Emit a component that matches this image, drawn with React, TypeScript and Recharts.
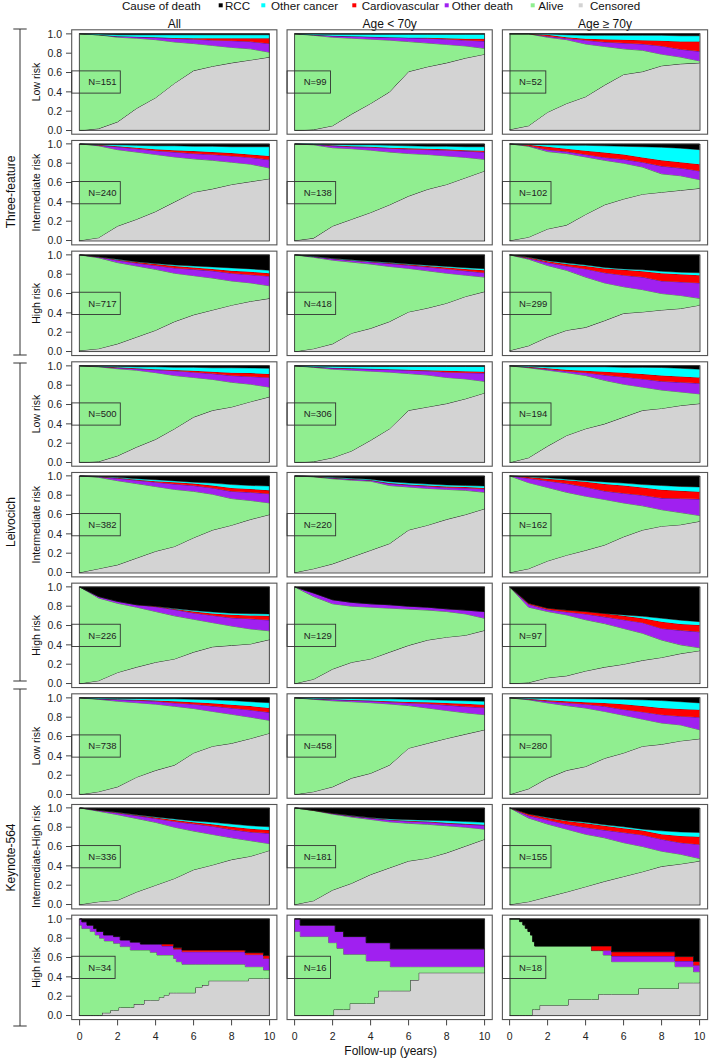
import React from "react";
import { AreaChart, Area, XAxis, YAxis } from "recharts";

// ---- data ----
const YEARS = [0, 1, 2, 3, 4, 5, 6, 7, 8, 9, 10];
const COLUMN_TITLES = ["All", "Age < 70y", "Age \u2265 70y"];
const GROUP_LABELS = ["Three-feature", "Leivocich", "Keynote-564"];
const ROW_LABELS = ["Low risk", "Intermediate risk", "High risk", "Low risk", "Intermediate risk", "High risk", "Low risk", "Intermediate-High risk", "High risk"];
const N_AT_RISK = [151, 99, 52, 240, 138, 102, 717, 418, 299, 500, 306, 194, 382, 220, 162, 226, 129, 97, 738, 458, 280, 336, 181, 155, 34, 16, 18];
const LEGEND_LABELS = ["RCC", "Other cancer", "Cardiovascular", "Other death", "Alive", "Censored"];
const X_TICKS = [0, 2, 4, 6, 8, 10];
const Y_TICKS = [0, 0.2, 0.4, 0.6, 0.8, 1];

// upper edge of each band at YEARS, one row per panel (rows 1-8, 3 columns)
const CENSORED = [
  [0, 0.02, 0.09, 0.23, 0.34, 0.49, 0.62, 0.665, 0.7, 0.73, 0.76],
  [0, 0.01, 0.05, 0.17, 0.28, 0.4, 0.61, 0.66, 0.7, 0.75, 0.79],
  [0.01, 0.05, 0.19, 0.28, 0.35, 0.47, 0.58, 0.61, 0.67, 0.69, 0.7],
  [0, 0.03, 0.15, 0.22, 0.3, 0.4, 0.5, 0.535, 0.58, 0.61, 0.64],
  [0, 0.025, 0.15, 0.22, 0.29, 0.37, 0.46, 0.53, 0.58, 0.65, 0.72],
  [0, 0.035, 0.12, 0.16, 0.27, 0.37, 0.43, 0.48, 0.5, 0.52, 0.54],
  [0.01, 0.03, 0.08, 0.15, 0.22, 0.31, 0.38, 0.43, 0.48, 0.52, 0.55],
  [0, 0.03, 0.08, 0.19, 0.24, 0.31, 0.41, 0.45, 0.5, 0.57, 0.62],
  [0.01, 0.06, 0.15, 0.22, 0.25, 0.32, 0.395, 0.41, 0.43, 0.445, 0.48],
  [0, 0.01, 0.07, 0.16, 0.24, 0.35, 0.47, 0.54, 0.575, 0.63, 0.68],
  [0, 0.01, 0.05, 0.12, 0.23, 0.35, 0.54, 0.575, 0.61, 0.66, 0.72],
  [0, 0.05, 0.17, 0.28, 0.35, 0.4, 0.47, 0.54, 0.56, 0.59, 0.61],
  [0, 0.04, 0.08, 0.15, 0.22, 0.27, 0.36, 0.44, 0.49, 0.55, 0.6],
  [0, 0.04, 0.09, 0.16, 0.23, 0.3, 0.44, 0.49, 0.55, 0.6, 0.66],
  [0, 0.04, 0.12, 0.18, 0.23, 0.285, 0.37, 0.44, 0.48, 0.495, 0.53],
  [0, 0.03, 0.115, 0.17, 0.22, 0.255, 0.325, 0.38, 0.395, 0.41, 0.455],
  [0, 0.045, 0.15, 0.22, 0.255, 0.325, 0.395, 0.45, 0.48, 0.5, 0.55],
  [0, 0.01, 0.06, 0.08, 0.13, 0.17, 0.2, 0.24, 0.27, 0.31, 0.34],
  [0, 0.03, 0.08, 0.18, 0.25, 0.305, 0.43, 0.5, 0.53, 0.58, 0.635],
  [0, 0.03, 0.08, 0.17, 0.22, 0.305, 0.48, 0.53, 0.58, 0.625, 0.67],
  [0, 0.06, 0.17, 0.25, 0.29, 0.375, 0.43, 0.5, 0.52, 0.555, 0.577],
  [0, 0.03, 0.045, 0.13, 0.2, 0.27, 0.36, 0.41, 0.465, 0.5, 0.56],
  [0, 0.04, 0.15, 0.22, 0.31, 0.38, 0.45, 0.48, 0.535, 0.605, 0.675],
  [0, 0.03, 0.08, 0.13, 0.185, 0.24, 0.29, 0.34, 0.395, 0.42, 0.45],
];
const ALIVE_TOP = [
  [1, 0.99, 0.965, 0.955, 0.94, 0.916, 0.9, 0.88, 0.86, 0.845, 0.81],
  [1, 0.985, 0.965, 0.955, 0.945, 0.935, 0.92, 0.905, 0.89, 0.875, 0.85],
  [1, 1, 0.965, 0.94, 0.895, 0.87, 0.845, 0.83, 0.79, 0.76, 0.72],
  [1, 0.98, 0.94, 0.915, 0.89, 0.865, 0.845, 0.83, 0.81, 0.79, 0.75],
  [1, 0.99, 0.96, 0.95, 0.935, 0.915, 0.9, 0.89, 0.875, 0.86, 0.84],
  [1, 0.975, 0.92, 0.9, 0.865, 0.83, 0.8, 0.76, 0.69, 0.67, 0.63],
  [1, 0.97, 0.92, 0.885, 0.85, 0.81, 0.785, 0.76, 0.73, 0.71, 0.68],
  [1, 0.975, 0.945, 0.925, 0.905, 0.88, 0.86, 0.835, 0.81, 0.79, 0.77],
  [1, 0.955, 0.89, 0.84, 0.77, 0.71, 0.67, 0.64, 0.6, 0.58, 0.55],
  [1, 0.99, 0.97, 0.955, 0.93, 0.9, 0.88, 0.86, 0.83, 0.81, 0.78],
  [1, 0.985, 0.965, 0.955, 0.945, 0.935, 0.92, 0.905, 0.88, 0.865, 0.84],
  [1, 0.98, 0.955, 0.93, 0.9, 0.85, 0.81, 0.78, 0.75, 0.73, 0.71],
  [1, 0.985, 0.95, 0.92, 0.89, 0.86, 0.84, 0.81, 0.765, 0.745, 0.72],
  [1, 0.99, 0.97, 0.955, 0.945, 0.9, 0.885, 0.87, 0.86, 0.85, 0.83],
  [1, 0.93, 0.88, 0.83, 0.79, 0.756, 0.72, 0.69, 0.65, 0.62, 0.59],
  [1, 0.885, 0.83, 0.79, 0.745, 0.7, 0.665, 0.63, 0.595, 0.565, 0.545],
  [1, 0.9, 0.825, 0.8, 0.79, 0.78, 0.77, 0.76, 0.745, 0.72, 0.675],
  [1, 0.79, 0.745, 0.71, 0.66, 0.62, 0.57, 0.52, 0.45, 0.4, 0.37],
  [1, 0.985, 0.965, 0.95, 0.935, 0.913, 0.89, 0.86, 0.83, 0.8, 0.767],
  [1, 0.985, 0.97, 0.96, 0.95, 0.937, 0.92, 0.895, 0.87, 0.845, 0.826],
  [1, 0.98, 0.948, 0.92, 0.895, 0.86, 0.82, 0.78, 0.74, 0.72, 0.67],
  [1, 0.965, 0.93, 0.89, 0.85, 0.8, 0.76, 0.725, 0.69, 0.66, 0.63],
  [1, 0.972, 0.935, 0.905, 0.88, 0.855, 0.84, 0.83, 0.815, 0.8, 0.78],
  [1, 0.895, 0.832, 0.78, 0.727, 0.69, 0.64, 0.6, 0.552, 0.52, 0.476],
];
const OTHER_TOP = [
  [1, 0.99, 0.975, 0.97, 0.962, 0.952, 0.945, 0.935, 0.93, 0.92, 0.9],
  [1, 0.99, 0.98, 0.975, 0.97, 0.965, 0.96, 0.955, 0.945, 0.935, 0.925],
  [1, 1, 0.975, 0.955, 0.935, 0.915, 0.905, 0.895, 0.875, 0.84, 0.82],
  [1, 0.985, 0.97, 0.95, 0.93, 0.915, 0.9, 0.89, 0.875, 0.86, 0.835],
  [1, 0.995, 0.98, 0.97, 0.965, 0.955, 0.945, 0.94, 0.935, 0.925, 0.915],
  [1, 0.98, 0.94, 0.92, 0.89, 0.86, 0.84, 0.81, 0.77, 0.75, 0.72],
  [1, 0.978, 0.945, 0.915, 0.89, 0.865, 0.85, 0.835, 0.81, 0.795, 0.78],
  [1, 0.982, 0.96, 0.943, 0.927, 0.91, 0.893, 0.875, 0.855, 0.835, 0.815],
  [1, 0.965, 0.92, 0.885, 0.855, 0.815, 0.79, 0.77, 0.73, 0.72, 0.71],
  [1, 0.993, 0.98, 0.97, 0.96, 0.95, 0.935, 0.92, 0.9, 0.89, 0.88],
  [1, 0.99, 0.978, 0.972, 0.967, 0.962, 0.955, 0.948, 0.935, 0.93, 0.925],
  [1, 0.985, 0.965, 0.945, 0.93, 0.905, 0.885, 0.865, 0.84, 0.83, 0.82],
  [1, 0.99, 0.975, 0.955, 0.935, 0.915, 0.9, 0.875, 0.84, 0.83, 0.815],
  [1, 0.992, 0.978, 0.965, 0.955, 0.92, 0.905, 0.893, 0.88, 0.875, 0.865],
  [1, 0.975, 0.948, 0.92, 0.885, 0.843, 0.82, 0.8, 0.77, 0.765, 0.76],
  [1, 0.9, 0.85, 0.815, 0.795, 0.765, 0.73, 0.705, 0.68, 0.67, 0.657],
  [1, 0.937, 0.867, 0.84, 0.825, 0.815, 0.8, 0.79, 0.773, 0.76, 0.745],
  [1, 0.82, 0.765, 0.74, 0.72, 0.69, 0.66, 0.63, 0.57, 0.55, 0.535],
  [1, 0.99, 0.982, 0.975, 0.965, 0.948, 0.935, 0.915, 0.895, 0.875, 0.85],
  [1, 0.99, 0.982, 0.975, 0.968, 0.958, 0.948, 0.94, 0.925, 0.91, 0.9],
  [1, 0.985, 0.965, 0.95, 0.935, 0.913, 0.88, 0.855, 0.826, 0.81, 0.8],
  [1, 0.973, 0.948, 0.92, 0.89, 0.86, 0.835, 0.81, 0.775, 0.75, 0.737],
  [1, 0.974, 0.942, 0.915, 0.894, 0.875, 0.862, 0.855, 0.84, 0.83, 0.82],
  [1, 0.92, 0.875, 0.83, 0.797, 0.77, 0.745, 0.72, 0.675, 0.64, 0.622],
];
const CARDIO_TOP = [
  [1, 0.99, 0.975, 0.97, 0.965, 0.958, 0.955, 0.955, 0.955, 0.955, 0.955],
  [1, 0.99, 0.98, 0.975, 0.97, 0.965, 0.96, 0.96, 0.955, 0.95, 0.95],
  [1, 1, 0.99, 0.965, 0.95, 0.945, 0.94, 0.935, 0.93, 0.92, 0.92],
  [1, 0.99, 0.975, 0.96, 0.945, 0.935, 0.925, 0.915, 0.905, 0.89, 0.875],
  [1, 0.995, 0.985, 0.975, 0.97, 0.96, 0.955, 0.95, 0.945, 0.935, 0.93],
  [1, 0.99, 0.97, 0.95, 0.93, 0.91, 0.89, 0.86, 0.83, 0.81, 0.79],
  [1, 0.98, 0.95, 0.925, 0.905, 0.885, 0.87, 0.855, 0.835, 0.825, 0.81],
  [1, 0.983, 0.962, 0.945, 0.93, 0.915, 0.9, 0.885, 0.87, 0.855, 0.84],
  [1, 0.973, 0.935, 0.905, 0.885, 0.86, 0.845, 0.83, 0.81, 0.8, 0.79],
  [1, 0.995, 0.985, 0.975, 0.965, 0.958, 0.95, 0.94, 0.93, 0.925, 0.916],
  [1, 0.99, 0.98, 0.975, 0.97, 0.965, 0.96, 0.955, 0.95, 0.945, 0.94],
  [1, 0.99, 0.975, 0.96, 0.95, 0.94, 0.93, 0.915, 0.9, 0.89, 0.88],
  [1, 0.993, 0.98, 0.96, 0.945, 0.935, 0.92, 0.9, 0.875, 0.865, 0.85],
  [1, 0.993, 0.98, 0.968, 0.958, 0.925, 0.91, 0.9, 0.89, 0.885, 0.875],
  [1, 0.988, 0.97, 0.955, 0.94, 0.915, 0.9, 0.88, 0.857, 0.845, 0.835],
  [1, 0.9, 0.85, 0.815, 0.8, 0.772, 0.745, 0.725, 0.712, 0.705, 0.7],
  [1, 0.937, 0.867, 0.84, 0.825, 0.815, 0.8, 0.79, 0.773, 0.76, 0.745],
  [1, 0.83, 0.78, 0.76, 0.745, 0.725, 0.7, 0.675, 0.64, 0.615, 0.605],
  [1, 0.99, 0.985, 0.98, 0.972, 0.965, 0.955, 0.945, 0.93, 0.915, 0.895],
  [1, 0.99, 0.985, 0.978, 0.972, 0.965, 0.958, 0.955, 0.948, 0.94, 0.93],
  [1, 0.99, 0.975, 0.965, 0.955, 0.948, 0.935, 0.915, 0.895, 0.885, 0.878],
  [1, 0.975, 0.952, 0.925, 0.9, 0.875, 0.85, 0.83, 0.805, 0.785, 0.77],
  [1, 0.975, 0.944, 0.918, 0.897, 0.878, 0.866, 0.86, 0.845, 0.835, 0.825],
  [1, 0.937, 0.895, 0.865, 0.84, 0.815, 0.79, 0.765, 0.727, 0.71, 0.7],
];
const CANCER_TOP = [
  [1, 0.998, 0.99, 0.99, 0.99, 0.99, 0.99, 0.99, 0.99, 0.99, 0.99],
  [1, 0.998, 0.995, 0.995, 0.995, 0.995, 0.995, 0.995, 0.995, 0.995, 0.995],
  [1, 1, 1, 0.99, 0.985, 0.985, 0.985, 0.985, 0.985, 0.98, 0.98],
  [1, 0.995, 0.99, 0.985, 0.98, 0.98, 0.975, 0.975, 0.97, 0.97, 0.97],
  [1, 1, 0.995, 0.99, 0.99, 0.985, 0.98, 0.975, 0.975, 0.97, 0.97],
  [1, 0.995, 0.99, 0.985, 0.985, 0.98, 0.975, 0.97, 0.965, 0.955, 0.94],
  [1, 0.98, 0.955, 0.93, 0.91, 0.895, 0.885, 0.875, 0.865, 0.855, 0.84],
  [1, 0.985, 0.965, 0.95, 0.935, 0.92, 0.905, 0.893, 0.88, 0.867, 0.857],
  [1, 0.975, 0.94, 0.915, 0.895, 0.87, 0.855, 0.845, 0.83, 0.82, 0.815],
  [1, 0.998, 0.995, 0.99, 0.99, 0.985, 0.985, 0.98, 0.98, 0.978, 0.975],
  [1, 0.998, 0.995, 0.993, 0.993, 0.993, 0.993, 0.993, 0.993, 0.993, 0.993],
  [1, 0.998, 0.99, 0.99, 0.99, 0.99, 0.985, 0.985, 0.983, 0.975, 0.965],
  [1, 0.995, 0.985, 0.97, 0.96, 0.948, 0.935, 0.925, 0.91, 0.9, 0.895],
  [1, 0.995, 0.985, 0.975, 0.965, 0.94, 0.925, 0.915, 0.905, 0.9, 0.895],
  [1, 0.99, 0.98, 0.965, 0.95, 0.937, 0.925, 0.91, 0.9, 0.89, 0.885],
  [1, 0.9, 0.85, 0.815, 0.8, 0.775, 0.755, 0.74, 0.727, 0.722, 0.72],
  [1, 0.937, 0.867, 0.84, 0.825, 0.815, 0.8, 0.79, 0.773, 0.76, 0.745],
  [1, 0.83, 0.78, 0.76, 0.745, 0.725, 0.71, 0.695, 0.675, 0.655, 0.64],
  [1, 0.998, 0.995, 0.993, 0.99, 0.99, 0.985, 0.98, 0.972, 0.96, 0.95],
  [1, 0.998, 0.995, 0.993, 0.99, 0.99, 0.985, 0.98, 0.975, 0.97, 0.965],
  [1, 0.998, 0.995, 0.993, 0.99, 0.988, 0.985, 0.98, 0.972, 0.96, 0.948],
  [1, 0.975, 0.955, 0.93, 0.905, 0.885, 0.865, 0.85, 0.832, 0.815, 0.804],
  [1, 0.975, 0.944, 0.92, 0.9, 0.885, 0.877, 0.872, 0.867, 0.858, 0.85],
  [1, 0.937, 0.9, 0.87, 0.85, 0.825, 0.804, 0.78, 0.762, 0.75, 0.745],
];

// Keynote-564 high risk (small groups): step functions as [year, value]
const STEP_CENSORED = [
  [[0, 0], [1.18, 0.028], [1.62, 0.055], [2.05, 0.083], [2.85, 0.118], [3.39, 0.159], [4.17, 0.187], [4.43, 0.211], [4.7, 0.235], [6.09, 0.291], [6.44, 0.315], [6.79, 0.36], [8.89, 0.384]],
  [[0, 0], [2.05, 0.062], [2.9, 0.125], [4.2, 0.19], [4.4, 0.256], [6.09, 0.367], [6.53, 0.443]],
  [[0, 0], [1.18, 0.062], [1.58, 0.107], [3.08, 0.166], [4.67, 0.221], [6.78, 0.28], [8.89, 0.339]],
];
const STEP_ALIVE_TOP = [
  [[0, 0.935], [0.12, 0.9], [0.56, 0.87], [0.82, 0.834], [1.05, 0.8], [1.3, 0.772], [1.79, 0.747], [2.14, 0.713], [2.67, 0.678], [3.72, 0.654], [4.07, 0.626], [4.95, 0.59], [5.09, 0.557], [5.39, 0.53], [8.72, 0.505], [9.68, 0.47]],
  [[0, 0.87], [0.3, 0.817], [1.79, 0.754], [2.23, 0.695], [2.58, 0.633], [3.77, 0.564], [5.04, 0.505]],
  [[0, 1], [0.53, 0.972], [0.7, 0.938], [0.83, 0.903], [0.97, 0.869], [1.1, 0.834], [1.22, 0.765], [1.32, 0.72], [4.31, 0.672], [4.93, 0.626], [5.37, 0.557], [8.71, 0.505], [9.68, 0.453]],
];
const STEP_OTHER_TOP = [
  [[0, 1], [0.12, 0.97], [0.39, 0.935], [0.74, 0.9], [0.91, 0.87], [1.26, 0.834], [1.79, 0.817], [2.14, 0.782], [2.67, 0.76], [3.2, 0.74], [4.33, 0.72], [4.95, 0.685], [5.39, 0.66], [8.72, 0.63], [9.68, 0.59]],
  [[0, 1], [0.3, 0.935], [2.14, 0.87], [2.58, 0.817], [3.77, 0.754], [5.04, 0.69]],
  [[0, 1], [0.53, 0.972], [0.7, 0.938], [0.83, 0.903], [0.97, 0.869], [1.1, 0.834], [1.22, 0.765], [1.32, 0.72], [4.31, 0.672], [5.37, 0.616], [8.71, 0.564], [9.68, 0.52]],
];
const STEP_CARDIO_TOP = [
  [[0, 1], [0.12, 0.97], [0.39, 0.935], [0.74, 0.9], [0.91, 0.87], [1.26, 0.834], [1.79, 0.817], [2.14, 0.782], [2.67, 0.76], [3.2, 0.74], [4.95, 0.7], [5.39, 0.678], [8.72, 0.65], [9.68, 0.62]],
  [[0, 1], [0.3, 0.935], [2.14, 0.87], [2.58, 0.817], [3.77, 0.754], [5.04, 0.69]],
  [[0, 1], [0.53, 0.972], [0.7, 0.938], [0.83, 0.903], [0.97, 0.869], [1.1, 0.834], [1.22, 0.765], [1.32, 0.72], [5.37, 0.66], [8.71, 0.61], [9.68, 0.56]],
];
const STEP_CANCER_TOP = STEP_CARDIO_TOP;

// ---- layout ----
const FONT = "'Liberation Sans', Arial, Helvetica, sans-serif";
const LAYERS = [
  { key: "cens", fill: "#D3D3D3", sw: 0.9 },
  { key: "alive", fill: "#90EE90", sw: 0.5 },
  { key: "other", fill: "#A020F0", sw: 0.5 },
  { key: "cardio", fill: "#FF0000", sw: 0.5 },
  { key: "oc", fill: "#00FFFF", sw: 0.5 },
  { key: "rcc", fill: "#000000", sw: 0.5 },
];
const LEGEND_COLORS = ["#000000", "#00FFFF", "#FF0000", "#A020F0", "#90EE90", "#D3D3D3"];
const LEGEND_MARK_X = [220.7, 263.3, 354.3, 446.7, 532.7, 580.7];
const LEGEND_TEXT_X = [225, 271, 361.7, 451.7, 538.3, 590];
const GROUP_SPANS = [[29, 355], [363, 681], [689, 1026]];

const X0 = 79.3, COL_STEP = 215.35, PW = 190;
const Y0 = 33.7, ROW_STEP = 110.67, PH = 96.6;
const PADX = 7.6, PADY = 3.9;
const YAXIS_W = 30, MTOP = 2, XAXIS_H = 30;

function bands(t: number, c: number, g: number, p: number, r: number, cy: number) {
  return {
    t,
    cens: c,
    alive: Math.max(0, g - c),
    other: Math.max(0, p - g),
    cardio: Math.max(0, r - p),
    oc: Math.max(0, cy - r),
    rcc: Math.max(0, 1 - cy),
  };
}

function stepAt(s: number[][], t: number) {
  let v = s[0][1];
  for (const [x, y] of s) if (x <= t) v = y;
  return v;
}

function buildSmooth(i: number) {
  return YEARS.map((t, k) =>
    bands(t, CENSORED[i][k], ALIVE_TOP[i][k], OTHER_TOP[i][k], CARDIO_TOP[i][k], CANCER_TOP[i][k])
  );
}

function buildStep(k: number) {
  const fns = [STEP_CENSORED[k], STEP_ALIVE_TOP[k], STEP_OTHER_TOP[k], STEP_CARDIO_TOP[k], STEP_CANCER_TOP[k]];
  const times = Array.from(new Set(fns.flatMap((f) => f.map((p) => p[0])).concat([10]))).sort((a, b) => a - b);
  return times.map((t) =>
    bands(t, stepAt(fns[0], t), stepAt(fns[1], t), stepAt(fns[2], t), stepAt(fns[3], t), stepAt(fns[4], t))
  );
}

function Panel({ idx }: { idx: number }) {
  const row = Math.floor(idx / 3);
  const col = idx % 3;
  const stepped = row === 8;
  const data = stepped ? buildStep(col) : buildSmooth(idx);
  const left = X0 + col * COL_STEP - PADX - YAXIS_W;
  const top = Y0 + row * ROW_STEP - PADY - MTOP;
  const width = YAXIS_W + PW + 2 * PADX + 2;
  const height = MTOP + PH + 2 * PADY + XAXIS_H;
  const tickStyle = { fontSize: 10.5, fill: "#222", fontFamily: FONT };

  return (
    <div style={{ position: "absolute", left, top }}>
      <AreaChart width={width} height={height} data={data} margin={{ top: MTOP, right: 2, bottom: 0, left: 0 }}>
        <XAxis
          dataKey="t"
          type="number"
          domain={[-0.4, 10.4]}
          ticks={X_TICKS}
          interval={0}
          axisLine={false}
          tickLine={{ stroke: "#444" }}
          tickSize={6}
          tickMargin={7}
          height={XAXIS_H}
          tick={row === 8 ? tickStyle : false}
        />
        <YAxis
          type="number"
          domain={[-0.04, 1.04]}
          ticks={Y_TICKS}
          interval={0}
          width={YAXIS_W}
          axisLine={false}
          tickLine={{ stroke: "#444" }}
          tickSize={6}
          tickMargin={4}
          tickFormatter={(v: number) => v.toFixed(1)}
          tick={col === 0 ? tickStyle : false}
        />
        {LAYERS.map((l) => (
          <Area
            key={l.key}
            dataKey={l.key}
            stackId="s"
            type={stepped ? "stepAfter" : "linear"}
            fill={l.fill}
            fillOpacity={1}
            stroke="#111"
            strokeWidth={l.sw}
            dot={false}
            activeDot={false}
            isAnimationActive={false}
          />
        ))}
      </AreaChart>
    </div>
  );
}

function Overlay() {
  const panels = N_AT_RISK.map((n, idx) => {
    const row = Math.floor(idx / 3);
    const col = idx % 3;
    const dx = X0 + col * COL_STEP;
    const dy = Y0 + row * ROW_STEP;
    const fx = dx - PADX;
    const fy = dy - PADY;
    const digits = String(n).length;
    const boxW = 33 + 5.2 * digits;
    return (
      <g key={idx}>
        <rect x={fx} y={fy} width={PW + 2 * PADX} height={PH + 2 * PADY} fill="none" stroke="#555" strokeWidth={1.1} />
        <rect x={dx} y={dy} width={PW} height={PH} fill="none" stroke="#222" strokeWidth={0.8} />
        <rect x={fx} y={dy + (1 - 0.615) * PH} width={boxW} height={0.23 * PH} fill="none" stroke="#333" strokeWidth={0.9} />
        <text x={fx + 16.6} y={dy + 0.5 * PH + 3.4} fontSize={9.5} fill="#222">{`N=${n}`}</text>
      </g>
    );
  });

  return (
    <svg width={709} height={1059} style={{ position: "absolute", left: 0, top: 0, pointerEvents: "none", fontFamily: FONT }}>
      {/* legend */}
      <text x={122} y={10} fontSize={11.6} fill="#111">Cause of death</text>
      {LEGEND_LABELS.map((lab, i) => (
        <g key={lab}>
          <rect x={LEGEND_MARK_X[i] - 2} y={3.3} width={4} height={4} fill={LEGEND_COLORS[i]} />
          <text x={LEGEND_TEXT_X[i]} y={10} fontSize={11.6} fill="#111">{lab}</text>
        </g>
      ))}
      {/* column titles */}
      {COLUMN_TITLES.map((t, c) => (
        <text key={t} x={X0 + c * COL_STEP + PW / 2} y={27.5} fontSize={12} textAnchor="middle" fill="#111">{t}</text>
      ))}
      {/* row labels */}
      {ROW_LABELS.map((t, r) => {
        const cy = Y0 + r * ROW_STEP + PH / 2;
        return (
          <text key={r} x={40} y={cy} fontSize={10.5} textAnchor="middle" fill="#111" transform={`rotate(-90 40 ${cy})`}>{t}</text>
        );
      })}
      {/* group brackets */}
      {GROUP_LABELS.map((t, g) => {
        const [a, b] = GROUP_SPANS[g];
        const cy = (a + b) / 2;
        return (
          <g key={t}>
            <line x1={20} y1={a} x2={20} y2={b} stroke="#333" strokeWidth={1} />
            <line x1={13.3} y1={a} x2={26.7} y2={a} stroke="#333" strokeWidth={1} />
            <line x1={13.3} y1={b} x2={26.7} y2={b} stroke="#333" strokeWidth={1} />
            <text x={15} y={cy} fontSize={12} textAnchor="middle" fill="#111" transform={`rotate(-90 15 ${cy})`}>{t}</text>
          </g>
        );
      })}
      {panels}
      <text x={X0 + COL_STEP + PW / 2 + 1} y={1055} fontSize={12} textAnchor="middle" fill="#111">Follow-up (years)</text>
    </svg>
  );
}

export default function App() {
  return (
    <div style={{ position: "absolute", left: 0, top: 0, width: 709, height: 1059, background: "#fff", fontFamily: FONT }}>
      {N_AT_RISK.map((_, i) => (
        <Panel key={i} idx={i} />
      ))}
      <Overlay />
    </div>
  );
}
